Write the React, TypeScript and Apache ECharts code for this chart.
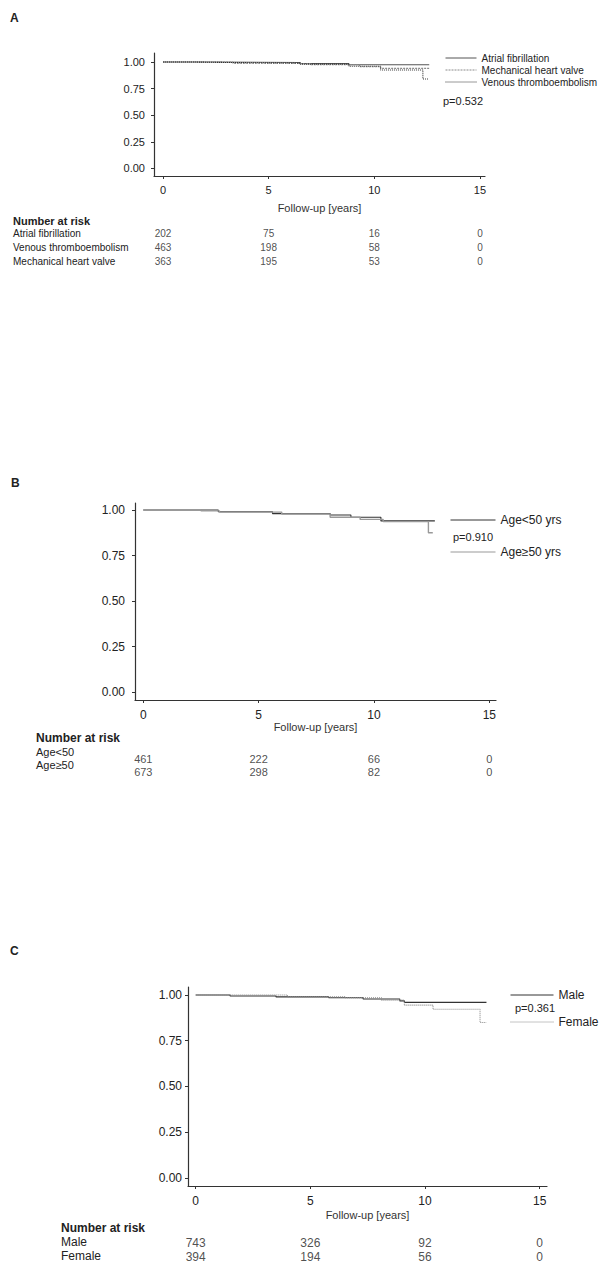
import React, { useEffect, useRef } from "react";
import * as echarts from "echarts";

const FONT = '"Liberation Sans", Arial, Helvetica, sans-serif';

// ---------- axis ticks ----------
const xTicks = [0, 5, 10, 15];
const yTicks = [0, 0.25, 0.5, 0.75, 1];

// ---------- Panel A ----------
const afTime = [0, 2.1, 6.5, 8.8, 12.6];
const afSurv = [1, 0.995, 0.985, 0.975, 0.975];
const mhvTime = [0, 3.3, 5.2, 7.0, 9.3, 10.3, 12.6];
const mhvSurv = [1, 0.99, 0.985, 0.975, 0.955, 0.94, 0.94];
const vteTime = [0, 1.5, 3.3, 6.5, 8.8, 10.3, 12.3, 12.55];
const vteSurv = [1, 0.995, 0.99, 0.98, 0.96, 0.925, 0.84, 0.84];

// ---------- Panel B ----------
const lt50Time = [0, 3.25, 5.6, 8.1, 9.0, 10.3, 12.64];
const lt50Surv = [1, 0.99, 0.98, 0.972, 0.96, 0.94, 0.94];
const ge50Time = [0, 2.5, 3.3, 6.0, 8.1, 9.4, 10.4, 12.36, 12.55];
const ge50Surv = [1, 0.995, 0.988, 0.978, 0.96, 0.948, 0.936, 0.875, 0.875];

// ---------- Panel C ----------
const maleTime = [0, 1.5, 3.5, 5.8, 7.3, 8.9, 9.1, 12.68];
const maleSurv = [1, 0.995, 0.99, 0.985, 0.978, 0.968, 0.96, 0.96];
const femaleTime = [0, 4.0, 6.5, 8.1, 9.1, 10.35, 12.4, 12.68];
const femaleSurv = [1, 0.99, 0.985, 0.972, 0.945, 0.922, 0.85, 0.85];

// ---------- Number at risk ----------
const riskTimes = [0, 5, 10, 15];
const rowsA = ["Atrial fibrillation", "Venous thromboembolism", "Mechanical heart valve"];
const riskA_AF = [202, 75, 16, 0];
const riskA_VTE = [463, 198, 58, 0];
const riskA_MHV = [363, 195, 53, 0];
const rowsB = ["Age<50", "Age≥50"];
const riskB_lt50 = [461, 222, 66, 0];
const riskB_ge50 = [673, 298, 82, 0];
const rowsC = ["Male", "Female"];
const riskC_male = [743, 326, 92, 0];
const riskC_female = [394, 194, 56, 0];

const pA = "p=0.532";
const pB = "p=0.910";
const pC = "p=0.361";

const pairs = (t: number[], s: number[]) => t.map((v, i) => [v, s[i]]);

function plotAxes(
  grid: number,
  xr: [number, number],
  yr: [number, number],
  fs: number,
  yMargin: number,
  xMargin: number,
  nameGap: number
) {
  const x = {
    gridIndex: grid,
    type: "value",
    min: xr[0],
    max: xr[1],
    axisLine: { show: true, onZero: false, lineStyle: { color: "#333", width: 1.2 } },
    axisTick: { show: true, customValues: xTicks, length: 3, lineStyle: { color: "#333" } },
    axisLabel: { customValues: xTicks, margin: xMargin, fontSize: fs, color: "#222", fontFamily: FONT },
    splitLine: { show: false },
    name: "Follow-up [years]",
    nameLocation: "middle",
    nameGap,
    nameTextStyle: { fontSize: 11, color: "#333", fontFamily: FONT },
  };
  const y = {
    gridIndex: grid,
    type: "value",
    min: yr[0],
    max: yr[1],
    axisLine: { show: true, onZero: false, lineStyle: { color: "#333", width: 1.2 } },
    axisTick: { show: true, customValues: yTicks, length: 3, lineStyle: { color: "#333" } },
    axisLabel: {
      customValues: yTicks,
      margin: yMargin,
      fontSize: fs,
      color: "#222",
      fontFamily: FONT,
      formatter: (v: number) => v.toFixed(2),
    },
    splitLine: { show: false },
  };
  return { x, y };
}

function tableAxes(grid: number, xr: [number, number], rows: string[]) {
  return {
    x: { gridIndex: grid, type: "value", min: xr[0], max: xr[1], show: false },
    y: { gridIndex: grid, type: "category", data: rows, inverse: true, show: false },
  };
}

function riskSeries(name: string, axisIdx: number, row: number, vals: number[], fs: number) {
  return {
    name,
    type: "scatter",
    xAxisIndex: axisIdx,
    yAxisIndex: axisIdx,
    symbolSize: 1,
    itemStyle: { color: "rgba(0,0,0,0)" },
    silent: true,
    data: riskTimes.map((t, i) => [t, row, vals[i]]),
    label: {
      show: true,
      position: "inside",
      formatter: (p: any) => String(p.value[2]),
      fontSize: fs,
      color: "#222",
      fontFamily: FONT,
    },
  };
}

function km(name: string, axisIdx: number, t: number[], s: number[], color: string, type: any, width = 1) {
  return {
    name,
    type: "line",
    step: "end",
    xAxisIndex: axisIdx,
    yAxisIndex: axisIdx,
    symbol: "none",
    showSymbol: false,
    silent: true,
    lineStyle: { color, width, type },
    itemStyle: { color },
    data: pairs(t, s),
  };
}

function txt(text: string, x: number, y: number, fs: number, bold = false, align = "left") {
  return {
    type: "text",
    x,
    y,
    silent: true,
    style: {
      text,
      fontSize: fs,
      fontFamily: FONT,
      fontWeight: bold ? "bold" : "normal",
      fill: "#222",
      align,
      verticalAlign: "middle",
    },
  };
}

const legendBase = {
  orient: "vertical",
  padding: 0,
  selectedMode: false,
  itemStyle: { opacity: 0, borderWidth: 0 },
  lineStyle: { width: 1 },
};

export default function App() {
  const ref = useRef<HTMLDivElement>(null);

  useEffect(() => {
    if (!ref.current) return;
    const chart = echarts.init(ref.current, undefined, { renderer: "svg" });

    const xrA: [number, number] = [-0.426, 15.24];
    const yrA: [number, number] = [-0.072, 1.085];
    const xrB: [number, number] = [-0.36, 15.29];
    const yrB: [number, number] = [-0.042, 1.038];
    const xrC: [number, number] = [-0.336, 15.32];
    const yrC: [number, number] = [-0.045, 1.044];

    const aP = plotAxes(0, xrA, yrA, 11, 9, 8, 26);
    const aT = tableAxes(1, xrA, rowsA);
    const bP = plotAxes(2, xrB, yrB, 12, 10, 9, 20);
    const bT = tableAxes(3, xrB, rowsB);
    const cP = plotAxes(4, xrC, yrC, 12, 6, 9, 23);
    const cT = tableAxes(5, xrC, rowsC);

    const option: any = {
      animation: false,
      backgroundColor: "#ffffff",
      textStyle: { fontFamily: FONT },
      grid: [
        { left: 154, top: 53, width: 331, height: 123 },
        { left: 154, top: 226, width: 331, height: 42 },
        { left: 135, top: 503, width: 361, height: 197 },
        { left: 135, top: 752, width: 361, height: 26 },
        { left: 188, top: 987, width: 359, height: 199 },
        { left: 188, top: 1236, width: 359, height: 28 },
      ],
      xAxis: [aP.x, aT.x, bP.x, bT.x, cP.x, cT.x],
      yAxis: [aP.y, aT.y, bP.y, bT.y, cP.y, cT.y],
      legend: [
        {
          ...legendBase,
          data: ["Atrial fibrillation", "Mechanical heart valve", "Venous thromboembolism"],
          left: 445,
          top: 52,
          itemWidth: 31,
          itemHeight: 10,
          itemGap: 0,
          textStyle: { fontSize: 10, lineHeight: 12, color: "#222", fontFamily: FONT },
        },
        {
          ...legendBase,
          data: ["Age<50 yrs", "Age≥50 yrs"],
          left: 450,
          top: 513,
          itemWidth: 45,
          itemHeight: 12,
          itemGap: 18,
          textStyle: { fontSize: 12, lineHeight: 14, color: "#222", fontFamily: FONT },
        },
        {
          ...legendBase,
          data: ["Male", "Female"],
          left: 510,
          top: 988,
          itemWidth: 43,
          itemHeight: 12,
          itemGap: 13,
          textStyle: { fontSize: 12, lineHeight: 14, color: "#222", fontFamily: FONT },
        },
      ],
      series: [
        km("Atrial fibrillation", 0, afTime, afSurv, "#555", "solid", 1.1),
        km("Mechanical heart valve", 0, mhvTime, mhvSurv, "#8a8a8a", [2, 1], 1.1),
        km("Venous thromboembolism", 0, vteTime, vteSurv, "#333", [1, 1], 1.1),
        riskSeries("riskA0", 1, 0, riskA_AF, 10),
        riskSeries("riskA1", 1, 1, riskA_VTE, 10),
        riskSeries("riskA2", 1, 2, riskA_MHV, 10),
        km("Age<50 yrs", 2, lt50Time, lt50Surv, "#333", "solid", 1.1),
        km("Age≥50 yrs", 2, ge50Time, ge50Surv, "#999", "solid", 1.4),
        riskSeries("riskB0", 3, 0, riskB_lt50, 11),
        riskSeries("riskB1", 3, 1, riskB_ge50, 11),
        km("Male", 4, maleTime, maleSurv, "#333", "solid", 1.1),
        km("Female", 4, femaleTime, femaleSurv, "#888", [1, 1], 1.1),
        riskSeries("riskC0", 5, 0, riskC_male, 12),
        riskSeries("riskC1", 5, 1, riskC_female, 12),
      ],
      graphic: [
        txt("A", 10, 18, 12, true),
        txt("B", 11, 483, 12, true),
        txt("C", 10, 951, 12, true),
        txt(pA, 443, 101, 11),
        txt(pB, 453, 537, 11),
        txt(pC, 515, 1008, 11),
        txt("Number at risk", 13, 221, 11, true),
        txt(rowsA[0], 13, 233, 10),
        txt(rowsA[1], 13, 247, 10),
        txt(rowsA[2], 13, 261, 10),
        txt("Number at risk", 36, 738, 12, true),
        txt(rowsB[0], 36, 752, 11),
        txt(rowsB[1], 36, 765, 11),
        txt("Number at risk", 61, 1228, 12, true),
        txt(rowsC[0], 61, 1242, 12),
        txt(rowsC[1], 61, 1256, 12),
      ],
    };

    chart.setOption(option);
    return () => chart.dispose();
  }, []);

  return (
    <div
      ref={ref}
      style={{ position: "absolute", left: 0, top: 0, width: 606, height: 1264, background: "#fff" }}
    />
  );
}
